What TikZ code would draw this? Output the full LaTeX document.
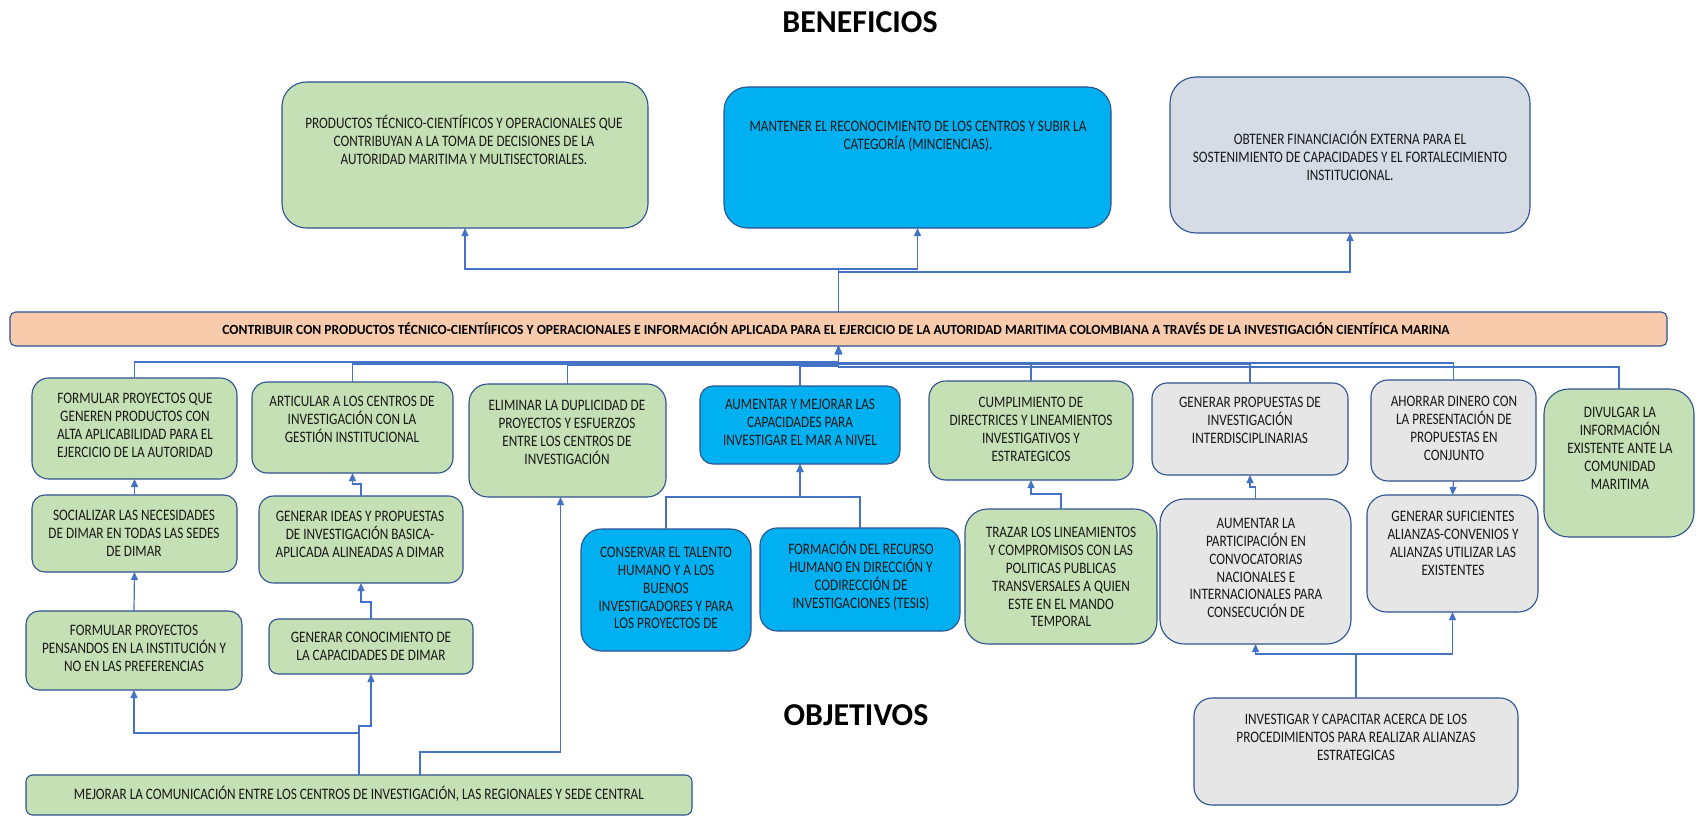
\documentclass[tikz,border=0pt]{standalone}
\usepackage{fontspec}
\usepackage{graphicx}
\setmainfont{Carlito}
\newfontfamily\boxfont[FakeStretch=0.83]{Carlito}
\usetikzlibrary{arrows.meta,calc}

\definecolor{cgreen}{HTML}{C5E0B4}
\definecolor{cblue}{HTML}{00B0F0}
\definecolor{cbgray}{HTML}{D6DCE5}
\definecolor{cgray}{HTML}{E7E6E6}
\definecolor{cpeach}{HTML}{F8CBAD}
\definecolor{edgec}{HTML}{2F528F}
\definecolor{linec}{HTML}{4472C4}

% rounded box from its corners: name, x1, y1, x2, y2, fill
\newcommand{\mkbox}[6]{%
  \pgfmathsetmacro\mkW{#4-#2}%
  \pgfmathsetmacro\mkH{#5-#3}%
  \pgfmathsetmacro\mkX{(#2+#4)/2}%
  \pgfmathsetmacro\mkY{(#3+#5)/2}%
  \pgfmathsetmacro\mkR{0.1667*min(\mkW,\mkH)}%
  \node[boxshape, fill=#6, rounded corners=\mkR bp,
        minimum width=\mkW bp, minimum height=\mkH bp] (#1) at (\mkX,\mkY) {};}

\begin{document}
\begin{tikzpicture}[x=1bp,y=-1bp,
  boxshape/.style={draw=edgec, line width=1.1bp, rectangle, inner sep=0pt, outer sep=0pt},
  txt/.style={font=\boxfont\fontsize{16}{18}\selectfont, align=center, inner sep=0pt, text=black!90},
  title/.style={font=\bfseries\fontsize{32}{36}\selectfont, inner sep=0pt},
  conn/.style={draw=linec, line width=1.2bp, -{Triangle[length=8bp,width=7bp]}}]

\fill[white] (0,0) rectangle (1703,817);
\useasboundingbox (0,0) rectangle (1703,817);

% headings
\node[title] (tben) at (860,22) {BENEFICIOS};
\node[title] (tobj) at (856,715) {OBJETIVOS};

% benefits
\mkbox{b1}{282}{82}{648}{228}{cgreen}
\mkbox{b2}{724}{87}{1111}{228}{cblue}
\mkbox{b3}{1170}{77}{1530}{233}{cbgray}

% general goal
\mkbox{ban}{10}{312}{1667}{346}{cpeach}

% objectives
\mkbox{o1}{32}{378}{237}{479}{cgreen}
\mkbox{o2}{252}{382}{453}{473}{cgreen}
\mkbox{o3}{32}{495}{237}{572}{cgreen}
\mkbox{o4}{259}{496}{463}{583}{cgreen}
\mkbox{o5}{26}{611}{242}{690}{cgreen}
\mkbox{o6}{269}{619}{473}{674}{cgreen}
\mkbox{o7}{469}{384}{666}{497}{cgreen}
\mkbox{o8}{700}{386}{900}{464}{cblue}
\mkbox{o9}{581}{529}{751}{651}{cblue}
\mkbox{o10}{760}{528}{960}{631}{cblue}
\mkbox{o11}{929}{381}{1133}{480}{cgreen}
\mkbox{o12}{1152}{383}{1348}{475}{cgray}
\mkbox{o13}{965}{509}{1157}{644}{cgreen}
\mkbox{o14}{1160}{499}{1351}{644}{cgray}
\mkbox{o15}{1371}{380}{1536}{481}{cgray}
\mkbox{o16}{1544}{389}{1694}{537}{cgreen}
\mkbox{o17}{1367}{495}{1538}{612}{cgray}
\mkbox{o18}{1194}{698}{1518}{805}{cgray}
\mkbox{m}{26}{775}{692}{815}{cgreen}

% texts
\node[txt] (b1t) at (464,140) {PRODUCTOS TÉCNICO-CIENTÍFICOS Y OPERACIONALES QUE\\CONTRIBUYAN A LA TOMA DE DECISIONES DE LA\\AUTORIDAD MARITIMA Y MULTISECTORIALES.};
\node[txt] (b2t) at (918,136) {MANTENER EL RECONOCIMIENTO DE LOS CENTROS Y SUBIR LA\\CATEGORÍA (MINCIENCIAS).};
\node[txt] (b3t) at (1350,156) {OBTENER FINANCIACIÓN EXTERNA PARA EL\\SOSTENIMIENTO DE CAPACIDADES Y EL FORTALECIMIENTO\\INSTITUCIONAL.};
\node[inner sep=0pt] (bant) at (836,329) {\resizebox{1227bp}{\height}{\boxfont\bfseries\fontsize{14}{16}\selectfont CONTRIBUIR CON PRODUCTOS TÉCNICO-CIENTÍIFICOS Y OPERACIONALES E INFORMACIÓN APLICADA PARA EL EJERCICIO DE LA AUTORIDAD MARITIMA COLOMBIANA A TRAVÉS DE LA INVESTIGACIÓN CIENTÍFICA MARINA}};

\node[txt] (o1t) at (135,425) {FORMULAR PROYECTOS QUE\\GENEREN PRODUCTOS CON\\ALTA APLICABILIDAD PARA EL\\EJERCICIO DE LA AUTORIDAD};
\node[txt] (o2t) at (352,419) {ARTICULAR A LOS CENTROS DE\\INVESTIGACIÓN CON LA\\GESTIÓN INSTITUCIONAL};
\node[txt] (o3t) at (134,533) {SOCIALIZAR LAS NECESIDADES\\DE DIMAR EN TODAS LAS SEDES\\DE DIMAR};
\node[txt] (o4t) at (360,534) {GENERAR IDEAS Y PROPUESTAS\\DE INVESTIGACIÓN BASICA-\\APLICADA ALINEADAS A DIMAR};
\node[txt] (o5t) at (134,648) {FORMULAR PROYECTOS\\PENSANDOS EN LA INSTITUCIÓN Y\\NO EN LAS PREFERENCIAS};
\node[txt] (o6t) at (371,646) {GENERAR CONOCIMIENTO DE\\LA CAPACIDADES DE DIMAR};
\node[txt] (o7t) at (567,432) {ELIMINAR LA DUPLICIDAD DE\\PROYECTOS Y ESFUERZOS\\ENTRE LOS CENTROS DE\\INVESTIGACIÓN};
\node[txt] (o8t) at (800,422) {AUMENTAR Y MEJORAR LAS\\CAPACIDADES PARA\\INVESTIGAR EL MAR A NIVEL};
\node[txt] (o9t) at (666,588) {CONSERVAR EL TALENTO\\HUMANO Y A LOS\\BUENOS\\INVESTIGADORES Y PARA\\LOS PROYECTOS DE};
\node[txt] (o10t) at (861,576) {FORMACIÓN DEL RECURSO\\HUMANO EN DIRECCIÓN Y\\CODIRECCIÓN DE\\INVESTIGACIONES (TESIS)};
\node[txt] (o11t) at (1031,429) {CUMPLIMIENTO DE\\DIRECTRICES Y LINEAMIENTOS\\INVESTIGATIVOS Y\\ESTRATEGICOS};
\node[txt] (o12t) at (1250,420) {GENERAR PROPUESTAS DE\\INVESTIGACIÓN\\INTERDISCIPLINARIAS};
\node[txt] (o13t) at (1061,577) {TRAZAR LOS LINEAMIENTOS\\Y COMPROMISOS CON LAS\\POLITICAS PUBLICAS\\TRANSVERSALES A QUIEN\\ESTE EN EL MANDO\\TEMPORAL};
\node[txt] (o14t) at (1256,568) {AUMENTAR LA\\PARTICIPACIÓN EN\\CONVOCATORIAS\\NACIONALES E\\INTERNACIONALES PARA\\CONSECUCIÓN DE};
\node[txt] (o15t) at (1454,428) {AHORRAR DINERO CON\\LA PRESENTACIÓN DE\\PROPUESTAS EN\\CONJUNTO};
\node[txt] (o16t) at (1620,448) {DIVULGAR LA\\INFORMACIÓN\\EXISTENTE ANTE LA\\COMUNIDAD\\MARITIMA};
\node[txt] (o17t) at (1453,543) {GENERAR SUFICIENTES\\ALIANZAS-CONVENIOS Y\\ALIANZAS UTILIZAR LAS\\EXISTENTES};
\node[txt] (o18t) at (1356,737) {INVESTIGAR Y CAPACITAR ACERCA DE LOS\\PROCEDIMIENTOS PARA REALIZAR ALIANZAS\\ESTRATEGICAS};
\node[txt] (mt) at (359,794) {MEJORAR LA COMUNICACIÓN ENTRE LOS CENTROS DE INVESTIGACIÓN, LAS REGIONALES Y SEDE CENTRAL};

% general goal to benefits
\draw[conn] (ban.north) -- ++(0,-43) -| (b1.south);
\draw[conn] (ban.north) -- ++(0,-43) -| (b2.south);
\draw[conn] (ban.north) -- ++(0,-40) -| (b3.south);

% objectives to general goal
\draw[conn] (o1.north)  |- ($(ban.south)+(0,16)$) -- (ban.south);
\draw[conn] (o2.north)  |- ($(ban.south)+(0,18)$) -- (ban.south);
\draw[conn] (o7.north)  |- ($(ban.south)+(0,19)$) -- (ban.south);
\draw[conn] (o8.north)  |- ($(ban.south)+(0,20)$) -- (ban.south);
\draw[conn] (o11.north) |- ($(ban.south)+(0,17)$) -- (ban.south);
\draw[conn] (o12.north) |- ($(ban.south)+(0,18)$) -- (ban.south);
\draw[conn] (o15.north) |- ($(ban.south)+(0,17)$) -- (ban.south);
\draw[conn] (o16.north) |- ($(ban.south)+(0,21)$) -- (ban.south);

% left column chains
\draw[conn] (o3.north) -- (o1.south);
\draw[conn] (o5.north) -- (o3.south);
\draw[conn] (o4.north) -- ++(0,-12) -| (o2.south);
\draw[conn] (o6.north) -- ++(0,-17) -| (o4.south);
\draw[conn] (m.north) -- ++(0,-42) -| (o5.south);
\draw[conn] (m.north) -- ++(0,-49) -| (o6.south);
\draw[conn] ([xshift=61bp]m.north) -- ++(0,-23) -| ([xshift=-7bp]o7.south);

% centre and right chains
\draw[conn] (o9.north) -- ++(0,-32) -| (o8.south);
\draw[conn] (o10.north) -- ++(0,-31) -| (o8.south);
\draw[conn] (o13.north) -- ++(0,-15) -| (o11.south);
\draw[conn] (o14.north) -- ++(0,-12) -| (o12.south);
\draw[conn] (o15.south) -- (o17.north);
\draw[conn] (o18.north) -- ++(0,-44) -| (o14.south);
\draw[conn] (o18.north) -- ++(0,-44) -| (o17.south);

\end{tikzpicture}
\end{document}
